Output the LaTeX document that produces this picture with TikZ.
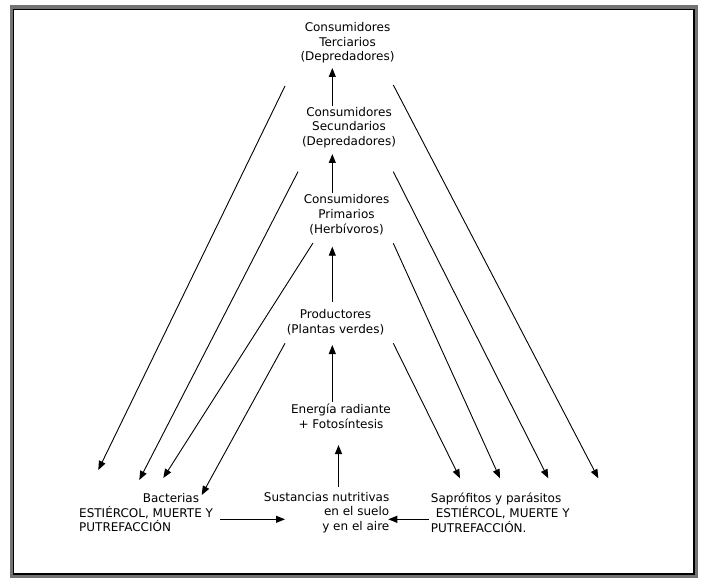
\documentclass[tikz,border=0pt]{standalone}
\usepackage{fontspec}
\setmainfont{DejaVu Sans}
\usetikzlibrary{arrows.meta}
\begin{document}
\begin{tikzpicture}[x=1pt,y=-1pt,
  lbl/.style={inner sep=0pt,font=\fontsize{12}{14.8}\selectfont},
  arr/.style={line width=0.9pt,-{Triangle[length=9pt,width=7pt]}},
  frameout/.style={draw=black!55,line width=4pt},
  framein/.style={draw=black,line width=1.6pt}]
\useasboundingbox (0,0) rectangle (708,585);
\fill[white] (0,0) rectangle (708,585);
% frame
\draw[frameout] (11.5,7.5) rectangle (696,576);
\draw[framein] (13.5,9.5) rectangle (694,574);
% nodes
\node[lbl,align=center] (ter) at (347.5,42.7) {Consumidores\\Terciarios\\(Depredadores)};
\node[lbl,align=center] (sec) at (349,127.5) {Consumidores\\Secundarios\\(Depredadores)};
\node[lbl,align=center] (pri) at (346.5,214.5) {Consumidores\\Primarios\\(Herbívoros)};
\node[lbl,align=center] (pro) at (335.5,322) {Productores\\(Plantas verdes)};
\node[lbl,align=center] (ene) at (341,416.3) {Energía radiante\\+ Fotosíntesis};
\node[lbl,align=right,anchor=east] (sus) at (389.5,512.5) {Sustancias nutritivas\\en el suelo\\y en el aire};
\node[lbl,align=left,anchor=west] (bac) at (79,512.7) {\hspace*{63.7pt}Bacterias\\ESTIÉRCOL, MUERTE Y\\PUTREFACCIÓN};
\node[lbl,align=left,anchor=west] (sap) at (430.7,512.7) {Saprófitos y parásitos\\\hspace*{5pt}ESTIÉRCOL, MUERTE Y\\PUTREFACCIÓN.};
% vertical arrows
\coordinate (v1s) at (332.3,106);   \coordinate (v1e) at (332.3,68);
\coordinate (v2s) at (332.3,192.7); \coordinate (v2e) at (332.3,154);
\coordinate (v3s) at (332.3,301.7); \coordinate (v3e) at (332.3,246.7);
\coordinate (v4s) at (332.3,401.7); \coordinate (v4e) at (332.3,345);
\coordinate (v5s) at (338.5,487);   \coordinate (v5e) at (338.5,445);
\draw[arr] (v1s) -- (v1e);
\draw[arr] (v2s) -- (v2e);
\draw[arr] (v3s) -- (v3e);
\draw[arr] (v4s) -- (v4e);
\draw[arr] (v5s) -- (v5e);
% horizontal arrows
\coordinate (h1s) at (220,519.3); \coordinate (h1e) at (285,519.3);
\coordinate (h2s) at (429,519.3); \coordinate (h2e) at (388.3,519.3);
\draw[arr] (h1s) -- (h1e);
\draw[arr] (h2s) -- (h2e);
% left diagonals
\coordinate (l1s) at (285,86);    \coordinate (l1e) at (98.3,470);
\coordinate (l2s) at (298,171.7); \coordinate (l2e) at (139.3,480);
\coordinate (l3s) at (313,243);   \coordinate (l3e) at (163.3,478);
\coordinate (l4s) at (285,343.3); \coordinate (l4e) at (201.7,495);
\draw[arr] (l1s) -- (l1e);
\draw[arr] (l2s) -- (l2e);
\draw[arr] (l3s) -- (l3e);
\draw[arr] (l4s) -- (l4e);
% right diagonals
\coordinate (r1s) at (393.3,85);    \coordinate (r1e) at (598.3,478.3);
\coordinate (r2s) at (393.3,171.7); \coordinate (r2e) at (548.3,478.3);
\coordinate (r3s) at (393.3,243.3); \coordinate (r3e) at (500,478.3);
\coordinate (r4s) at (393.3,343.3); \coordinate (r4e) at (460,478.3);
\draw[arr] (r1s) -- (r1e);
\draw[arr] (r2s) -- (r2e);
\draw[arr] (r3s) -- (r3e);
\draw[arr] (r4s) -- (r4e);
\end{tikzpicture}
\end{document}
